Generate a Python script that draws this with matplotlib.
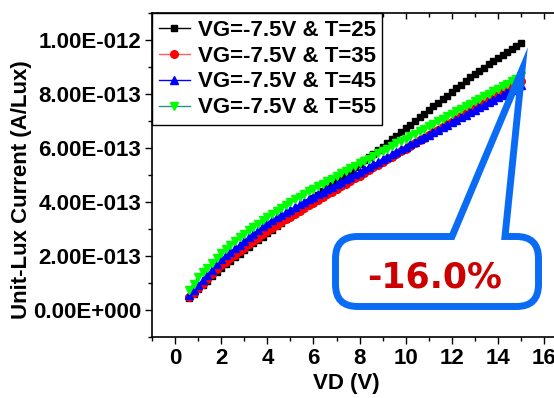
import matplotlib
matplotlib.use("Agg")
import matplotlib.pyplot as plt
import numpy as np
from matplotlib.path import Path
from matplotlib.patches import PathPatch
from matplotlib.ticker import MultipleLocator, FuncFormatter

plt.rcParams['font.family'] = 'Liberation Sans'
plt.rcParams['font.weight'] = 'bold'
plt.rcParams['axes.labelweight'] = 'bold'

# drain voltage sweep (V)
vd = np.round(np.arange(0.6, 15.01, 0.2), 1)

# unit-lux current, in units of 1e-13 A/Lux
i_t25 = [0.45, 0.61, 0.77, 0.93, 1.09, 1.25, 1.41, 1.57, 1.70, 1.83,
         1.95, 2.08, 2.21, 2.34, 2.47, 2.59, 2.72, 2.85, 2.98, 3.11,
         3.23, 3.36, 3.49, 3.62, 3.75, 3.87, 4.00, 4.13, 4.26, 4.39,
         4.51, 4.64, 4.77, 4.90, 5.03, 5.15, 5.28, 5.41, 5.54, 5.67,
         5.79, 5.92, 6.05, 6.19, 6.32, 6.46, 6.59, 6.73, 6.86, 7.00,
         7.13, 7.27, 7.40, 7.54, 7.67, 7.81, 7.94, 8.08, 8.21, 8.35,
         8.48, 8.62, 8.75, 8.87, 8.98, 9.10, 9.21, 9.33, 9.44, 9.56,
         9.67, 9.79, 9.90]
i_t35 = [0.47, 0.64, 0.81, 0.98, 1.15, 1.32, 1.52, 1.66, 1.79, 1.92,
         2.04, 2.17, 2.30, 2.43, 2.56, 2.68, 2.81, 2.94, 3.04, 3.15,
         3.25, 3.36, 3.46, 3.56, 3.67, 3.77, 3.88, 3.98, 4.08, 4.18,
         4.28, 4.38, 4.48, 4.58, 4.68, 4.78, 4.88, 4.98, 5.08, 5.18,
         5.28, 5.38, 5.48, 5.58, 5.68, 5.78, 5.88, 5.98, 6.08, 6.18,
         6.28, 6.38, 6.48, 6.58, 6.68, 6.78, 6.88, 6.98, 7.08, 7.18,
         7.28, 7.38, 7.48, 7.58, 7.68, 7.78, 7.88, 7.98, 8.08, 8.18,
         8.28, 8.38, 8.48]
i_t45 = [0.55, 0.74, 0.93, 1.12, 1.31, 1.50, 1.69, 1.88, 2.02, 2.15,
         2.29, 2.42, 2.56, 2.70, 2.83, 2.97, 3.10, 3.24, 3.34, 3.43,
         3.53, 3.62, 3.72, 3.82, 3.91, 4.01, 4.10, 4.20, 4.29, 4.38,
         4.48, 4.57, 4.66, 4.75, 4.84, 4.94, 5.03, 5.12, 5.21, 5.30,
         5.40, 5.49, 5.58, 5.67, 5.76, 5.86, 5.95, 6.04, 6.13, 6.22,
         6.32, 6.41, 6.50, 6.59, 6.68, 6.78, 6.87, 6.96, 7.05, 7.14,
         7.24, 7.33, 7.42, 7.51, 7.60, 7.70, 7.79, 7.88, 7.97, 8.06,
         8.16, 8.25, 8.34]
i_t55 = [0.75, 0.98, 1.21, 1.39, 1.57, 1.75, 1.93, 2.11, 2.25, 2.40,
         2.54, 2.69, 2.83, 2.95, 3.08, 3.20, 3.33, 3.45, 3.56, 3.67,
         3.79, 3.90, 4.01, 4.11, 4.20, 4.30, 4.39, 4.49, 4.59, 4.68,
         4.78, 4.87, 4.97, 5.06, 5.15, 5.25, 5.34, 5.43, 5.52, 5.61,
         5.71, 5.80, 5.89, 5.98, 6.07, 6.17, 6.26, 6.35, 6.44, 6.53,
         6.63, 6.72, 6.81, 6.90, 6.99, 7.09, 7.18, 7.27, 7.36, 7.45,
         7.55, 7.64, 7.73, 7.82, 7.91, 8.01, 8.10, 8.19, 8.28, 8.37,
         8.47, 8.56, 8.65]

labels = ['VG=-7.5V & T=25', 'VG=-7.5V & T=35',
          'VG=-7.5V & T=45', 'VG=-7.5V & T=55']
series = [i_t25, i_t35, i_t45, i_t55]
line_colors = ['black', '#ff5c5c', '#0000ff', '#1f9a8a']
marker_colors = ['black', '#ff0000', '#0000ff', '#00ff00']
markers = ['s', 'o', '^', 'v']
msizes = [5, 5.5, 6, 6]
change_text = '-16.0%'


def origin_sci(v, pos):
    if v == 0:
        return '0.00E+000'
    e = int(np.floor(np.log10(abs(v)) + 1e-9))
    m = v / 10.0**e
    return f'{m:.2f}E{e:+04d}'


fig = plt.figure(figsize=(5.54, 3.98), dpi=100)
ax = fig.add_axes([152 / 554, 61 / 398, 403.6 / 554, 324 / 398])

for ys, lab, lc, mc, mk, ms in zip(series, labels, line_colors, marker_colors, markers, msizes):
    ax.plot(vd, np.array(ys) * 1e-13, color=lc, lw=1, marker=mk, ms=ms,
            mfc=mc, mec=mc, label=lab)

ax.set_xlim(-1, 16.5)
ax.set_ylim(-1e-13, 1.1e-12)
ax.xaxis.set_major_locator(MultipleLocator(2))
ax.xaxis.set_minor_locator(MultipleLocator(1))
ax.yaxis.set_major_locator(MultipleLocator(2e-13))
ax.yaxis.set_minor_locator(MultipleLocator(1e-13))
ax.yaxis.set_major_formatter(FuncFormatter(origin_sci))
ax.yaxis.get_offset_text().set_visible(False)
ax.xaxis.get_offset_text().set_visible(False)

ax.tick_params(which='major', direction='out', length=5, width=1, labelsize=16, pad=3)
ax.tick_params(which='minor', direction='out', length=3, width=1)
for s in ['left', 'bottom']:
    ax.spines[s].set_linewidth(1.2)
ax.spines['right'].set_visible(False)
ax.spines['top'].set_visible(False)

top = ax.secondary_xaxis('top')
top.xaxis.set_major_locator(MultipleLocator(2))
top.xaxis.set_minor_locator(MultipleLocator(1))
top.tick_params(which='both', direction='in', labeltop=False, width=1)
top.tick_params(which='major', length=4)
top.tick_params(which='minor', length=3)
top.spines['top'].set_linewidth(1.2)
top.xaxis.get_offset_text().set_visible(False)

ax.set_xlabel('VD (V)', fontsize=16, fontweight='bold', va='center')
ax.xaxis.set_label_coords((346 - 152) / 403.6, (337 - 383) / 324)
ax.set_ylabel('Unit-Lux Current (A/Lux)', fontsize=16, fontweight='bold', va='center')
ax.yaxis.set_label_coords((22 - 152) / 403.6, (337 - 190) / 324)

leg = ax.legend(loc='upper left', bbox_to_anchor=(0, 1), borderaxespad=0,
                fontsize=16, handlelength=1.4, handletextpad=0.35,
                labelspacing=0.22, borderpad=0.3, fancybox=False,
                framealpha=1, edgecolor='black')
leg.get_frame().set_linewidth(1)

# callout bubble with the relative change
ov = fig.add_axes([0, 0, 1, 1])
ov.set_xlim(0, 554)
ov.set_ylim(398, 0)
ov.axis('off')
L, R, T, B, r = 335.5, 538.5, 236.5, 306.5, 22
verts = [(L + r, T), (452, T), (522, 70), (505, T), (R - r, T),
         (R, T), (R, T + r), (R, B - r),
         (R, B), (R - r, B), (L + r, B),
         (L, B), (L, B - r), (L, T + r),
         (L, T), (L + r, T), (L + r, T)]
codes = [Path.MOVETO, Path.LINETO, Path.LINETO, Path.LINETO, Path.LINETO,
         Path.CURVE3, Path.CURVE3, Path.LINETO,
         Path.CURVE3, Path.CURVE3, Path.LINETO,
         Path.CURVE3, Path.CURVE3, Path.LINETO,
         Path.CURVE3, Path.CURVE3, Path.CLOSEPOLY]
ov.add_patch(PathPatch(Path(verts, codes), facecolor='none',
                       edgecolor='#0a6cf5', lw=5, joinstyle='miter'))
ov.text(435, 277, change_text, color='#cc0000', fontsize=25,
        fontweight='bold', family='DejaVu Sans', ha='center', va='center')

fig.savefig('out.png', dpi=100)
